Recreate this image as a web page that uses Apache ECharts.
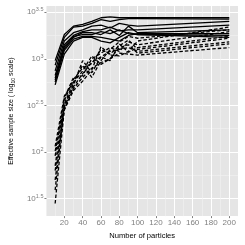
<!DOCTYPE html>
<html><head><meta charset="utf-8">
<script src="https://cdn.jsdelivr.net/npm/echarts@6/dist/echarts.min.js"></script>
<style>html,body{margin:0;padding:0;background:#fff}#c{width:245px;height:245px}</style>
</head><body><div id="c"></div>
<script>
// Number of particles (x)
var particles = [10, 20, 30, 40, 50, 60, 70, 80, 90, 100, 200];
// Effective sample size, solid-line runs
var solid1 = [955, 1820, 2239, 2344, 2512, 2754, 2818, 2754, 2754, 2754, 2754];
var solid2 = [851, 1698, 2188, 2239, 2399, 2630, 2512, 2630, 2692, 2692, 2661];
var solid3 = [741, 1549, 1905, 2042, 2239, 2291, 2138, 2399, 2291, 2239, 2512];
var solid4 = [661, 1413, 1778, 1950, 2042, 2042, 2188, 1995, 2042, 2042, 2291];
var solid5 = [617, 1288, 1698, 1905, 1905, 1820, 2042, 1778, 2239, 1905, 2042];
var solid6 = [562, 1230, 1622, 1738, 1738, 1698, 1622, 1549, 1778, 1862, 1862];
var solid7 = [525, 1122, 1549, 1698, 1698, 1549, 1479, 1698, 1905, 1820, 1698];
var solid8 = [589, 1349, 1738, 1820, 1820, 1950, 1862, 2042, 1862, 1820, 1778];
// Effective sample size, dashed-line runs
var dashed1 = [28, 288, 479, 631, 794, 912, 1000, 1148, 1122, 1096, 1318];
var dashed2 = [50, 316, 525, 955, 708, 1047, 1202, 1259, 1318, 1202, 1514];
var dashed3 = [71, 355, 603, 794, 891, 1259, 1122, 1380, 1585, 1259, 1660];
var dashed4 = [91, 380, 631, 661, 1000, 1148, 1318, 1202, 1514, 1413, 1950];
var dashed5 = [115, 398, 562, 851, 631, 955, 1259, 1514, 1738, 1660, 2042];
var dashed6 = [63, 282, 457, 575, 759, 1349, 1096, 1072, 1202, 1549, 2188];
var dashed7 = [39, 331, 550, 741, 1072, 871, 1000, 1318, 1413, 1148, 1445];
var dashed8 = [102, 302, 501, 692, 912, 1047, 955, 1445, 1175, 1318, 1738];
// Tick positions
var xMajorTicks = [20, 40, 60, 80, 100, 120, 140, 160, 180, 200];
var xMinorTicks = [10, 30, 50, 70, 90, 110, 130, 150, 170, 190];
var yMajorTicks = [1.5, 2, 2.5, 3, 3.5]; // log10 exponents
var yMinorTicks = [1.75, 2.25, 2.75, 3.25];

var solidRuns = [solid1, solid2, solid3, solid4, solid5, solid6, solid7, solid8];
var dashedRuns = [dashed1, dashed2, dashed3, dashed4, dashed5, dashed6, dashed7, dashed8];

var FONT = '"Liberation Sans", Arial, sans-serif';
var GREY = '#7f7f7f';

function toPairs(run) {
  return run.map(function (v, i) { return [particles[i], Math.log10(v)]; });
}
var series = [];
solidRuns.forEach(function (r) {
  series.push({ type: 'line', data: toPairs(r), showSymbol: false, silent: true,
    lineStyle: { color: '#000', width: 1.3 }, z: 3 });
});
dashedRuns.forEach(function (r) {
  series.push({ type: 'line', data: toPairs(r), showSymbol: false, silent: true,
    lineStyle: { color: '#000', width: 1.3, type: [3.5, 2] }, z: 3 });
});

var chart = echarts.init(document.getElementById('c'), null, { renderer: 'canvas' });
chart.setOption({
  animation: false,
  grid: { left: 34, right: 7, top: 6, bottom: 23, show: true, backgroundColor: '#E5E5E5', borderWidth: 0 },
  xAxis: [{
    type: 'value', min: 0.5, max: 209.5, position: 'bottom',
    name: 'Number of particles', nameLocation: 'middle', nameGap: 10,
    nameTextStyle: { fontFamily: FONT, fontSize: 7.6, color: '#000' },
    axisLine: { show: false },
    axisTick: { show: true, length: 2, lineStyle: { color: GREY, width: 1 }, customValues: xMajorTicks },
    axisLabel: { customValues: xMajorTicks, margin: 3, fontFamily: FONT, fontSize: 8, color: GREY },
    splitLine: { show: true, lineStyle: { color: '#FFFFFF', width: 1 } }
  }, {
    type: 'value', min: 0.5, max: 209.5, position: 'top',
    axisLine: { show: false }, axisLabel: { show: false },
    axisTick: { show: false, customValues: xMinorTicks },
    splitLine: { show: true, lineStyle: { color: '#F2F2F2', width: 0.6 } }
  }],
  yAxis: [{
    type: 'value', min: 1.312, max: 3.566, position: 'left',
    name: 'Effective sample size ( log{sub|10} scale)', nameLocation: 'middle', nameGap: 23, nameRotate: 90,
    nameTextStyle: { fontFamily: FONT, fontSize: 7, color: '#000',
      rich: { sub: { fontFamily: FONT, fontSize: 5, color: '#000', padding: [4, 0, 0, 0] } } },
    axisLine: { show: false },
    axisTick: { show: true, length: 2, lineStyle: { color: GREY, width: 1 }, customValues: yMajorTicks },
    axisLabel: {
      customValues: yMajorTicks, margin: 3,
      formatter: function (v) { return '{b|10}{s|' + (Math.round(v * 10) / 10) + '}'; },
      rich: {
        b: { fontFamily: FONT, fontSize: 8, color: GREY },
        s: { fontFamily: FONT, fontSize: 5.5, color: GREY, padding: [0, 0, 5, 0] }
      }
    },
    splitLine: { show: true, lineStyle: { color: '#FFFFFF', width: 1 } }
  }, {
    type: 'value', min: 1.312, max: 3.566, position: 'right',
    axisLine: { show: false }, axisLabel: { show: false },
    axisTick: { show: false, customValues: yMinorTicks },
    splitLine: { show: true, lineStyle: { color: '#F2F2F2', width: 0.6 } }
  }],
  series: series
});
</script></body></html>
